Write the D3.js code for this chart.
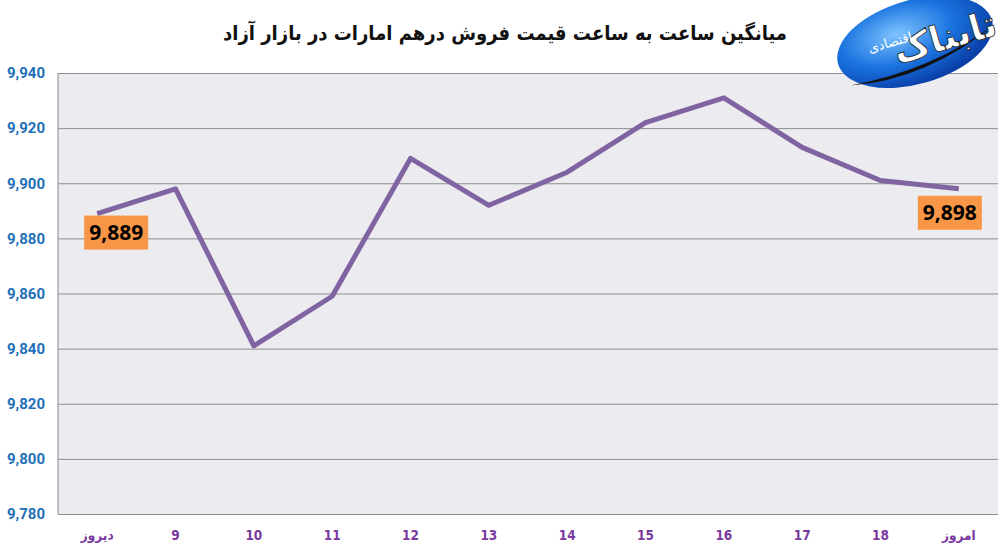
<!DOCTYPE html>
<html>
<head>
<meta charset="utf-8">
<script src="https://cdn.jsdelivr.net/npm/d3@7"></script>
<style>
  html, body { margin: 0; padding: 0; background: #fff; }
  svg { display: block; }
</style>
</head>
<body>
<svg id="chart" width="1006" height="551"></svg>
<script>
// داده ها
const categories = ["دیروز", "9", "10", "11", "12", "13", "14", "15", "16", "17", "18", "امروز"];
const values = [9889, 9898, 9841, 9859, 9909, 9892, 9904, 9922, 9931, 9913, 9901, 9898];
const yTicks = [9780, 9800, 9820, 9840, 9860, 9880, 9900, 9920, 9940];
const titleText = "میانگین ساعت به ساعت قیمت فروش درهم امارات در بازار آزاد";

const width = 1006, height = 551;
const margin = { top: 73, right: 8, bottom: 37, left: 58 };

const svg = d3.select("#chart");
const g = svg.append("g");

const x = d3.scaleBand()
    .domain(categories)
    .range([margin.left, width - margin.right]);

const y = d3.scaleLinear()
    .domain([9780, 9940])
    .range([height - margin.bottom, margin.top]);

// پس زمینه نمودار
g.append("rect")
    .attr("x", margin.left)
    .attr("y", margin.top)
    .attr("width", width - margin.right - margin.left)
    .attr("height", height - margin.bottom - margin.top)
    .attr("fill", "#ecebf0");

// خطوط شبکه
g.append("g")
    .attr("transform", `translate(${margin.left},0)`)
    .call(d3.axisLeft(y).tickValues(yTicks).tickSize(-(width - margin.right - margin.left)).tickFormat(""))
    .call(s => s.select(".domain").remove())
    .call(s => s.selectAll("line").attr("stroke", "#8c8c8c").attr("stroke-width", 1));

// محور عمودی
g.append("line")
    .attr("x1", margin.left).attr("x2", margin.left)
    .attr("y1", margin.top).attr("y2", height - margin.bottom)
    .attr("stroke", "#8c8c8c");

// برچسب های محور y
g.append("g")
    .attr("transform", `translate(${margin.left},0)`)
    .call(d3.axisLeft(y).tickValues(yTicks).tickSize(0).tickPadding(13).tickFormat(d3.format(",")))
    .call(s => s.select(".domain").remove())
    .call(s => s.selectAll("text")
        .attr("fill", "#1f6fb8")
        .attr("font-family", "'Liberation Sans Narrow', 'Roboto', sans-serif")
        .attr("font-weight", "bold")
        .attr("font-size", "15px"));

// برچسب های محور x
g.append("g")
    .attr("transform", `translate(0,${height - margin.bottom})`)
    .call(d3.axisBottom(x).tickSize(0).tickPadding(16))
    .call(s => s.select(".domain").remove())
    .call(s => s.selectAll("text")
        .attr("fill", "#7a3aa0")
        .attr("font-family", "'DejaVu Sans Condensed', 'DejaVu Sans', sans-serif")
        .attr("font-weight", "bold")
        .attr("font-size", "13.5px"));

// خط قیمت
const line = d3.line()
    .x((d, i) => x(categories[i]) + x.bandwidth() / 2)
    .y(d => y(d));

g.append("path")
    .datum(values)
    .attr("d", line)
    .attr("fill", "none")
    .attr("stroke", "#8064a2")
    .attr("stroke-width", 5)
    .attr("stroke-linejoin", "round");

// برچسب اول و آخر
const labelIdx = [0, values.length - 1];
const lbl = g.selectAll(".lbl")
    .data(labelIdx)
    .enter().append("g")
    .attr("class", "lbl")
    .attr("transform", i => {
        const cx = x(categories[i]) + x.bandwidth() / 2;
        const cy = y(values[i]);
        return i === 0 ? `translate(${cx + 19},${cy + 19})` : `translate(${cx - 9},${cy + 24})`;
    });

lbl.append("rect")
    .attr("x", -32).attr("y", -17)
    .attr("width", 64).attr("height", 34)
    .attr("fill", "#f79646");

lbl.append("text")
    .attr("text-anchor", "middle")
    .attr("dy", "0.36em")
    .attr("font-family", "'Open Sans', 'Noto Sans', sans-serif")
    .attr("font-weight", "bold")
    .attr("font-size", "21px")
    .attr("fill", "#000")
    .text(i => d3.format(",")(values[i]));

// عنوان
svg.append("text")
    .attr("x", 505)
    .attr("y", 40)
    .attr("text-anchor", "middle")
    .attr("font-family", "'DejaVu Sans Condensed', 'DejaVu Sans', sans-serif")
    .attr("font-weight", "bold")
    .attr("font-size", "20px")
    .attr("fill", "#111")
    .text(titleText);

// لوگو
const defs = svg.append("defs");
const grad = defs.append("radialGradient").attr("id", "logoGrad")
    .attr("cx", "40%").attr("cy", "35%").attr("r", "65%");
grad.append("stop").attr("offset", "0%").attr("stop-color", "#7fc3ff");
grad.append("stop").attr("offset", "55%").attr("stop-color", "#1a74e0");
grad.append("stop").attr("offset", "100%").attr("stop-color", "#0a3fa8");

const logo = svg.append("g").attr("transform", "translate(915,42) rotate(-16)");
logo.append("ellipse")
    .attr("rx", 80).attr("ry", 42)
    .attr("fill", "url(#logoGrad)");
logo.append("path")
    .attr("d", "M-74,24 Q0,40 84,4 Q10,32 -74,24 Z")
    .attr("fill", "#111");
logo.append("text")
    .attr("x", 30).attr("y", 16)
    .attr("text-anchor", "middle")
    .attr("font-family", "'DejaVu Sans', sans-serif")
    .attr("font-weight", "bold")
    .attr("font-size", "36px")
    .attr("fill", "#fff")
    .attr("stroke", "#222")
    .attr("stroke-width", 0.8)
    .text("تابناک");
logo.append("text")
    .attr("x", -24).attr("y", -2)
    .attr("text-anchor", "middle")
    .attr("font-family", "'DejaVu Sans', sans-serif")
    .attr("font-size", "13px")
    .attr("fill", "#fff")
    .text("اقتصادی");
</script>
</body>
</html>
